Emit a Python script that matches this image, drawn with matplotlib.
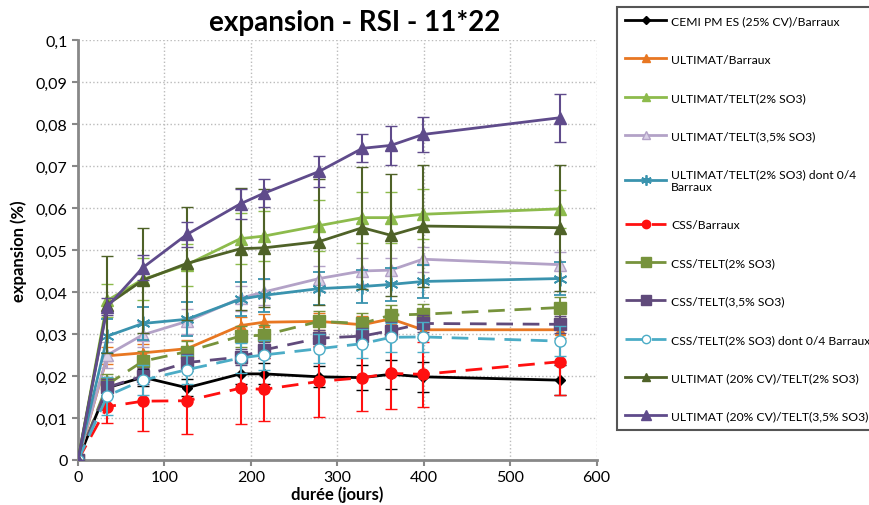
import matplotlib.pyplot as plt
from matplotlib.ticker import FuncFormatter

# durée (jours)
days = [0, 34, 75, 126, 188, 215, 279, 329, 362, 399, 558]

labels = [
    "CEMI PM ES (25% CV)/Barraux",
    "ULTIMAT/Barraux",
    "ULTIMAT/TELT(2% SO3)",
    "ULTIMAT/TELT(3,5% SO3)",
    "ULTIMAT/TELT(2% SO3) dont 0/4\nBarraux",
    "CSS/Barraux",
    "CSS/TELT(2% SO3)",
    "CSS/TELT(3,5% SO3)",
    "CSS/TELT(2% SO3) dont 0/4 Barraux",
    "ULTIMAT (20% CV)/TELT(2% SO3)",
    "ULTIMAT (20% CV)/TELT(3,5% SO3)",
]

cemi = [0, 0.0172, 0.0197, 0.0172, 0.0205, 0.0205, 0.0198, 0.0196, 0.0204, 0.0198, 0.0190]
ult_barraux = [0, 0.0248, 0.0255, 0.0265, 0.0320, 0.0328, 0.0330, 0.0322, 0.0336, 0.0310, 0.0310]
ult_telt2 = [0, 0.0380, 0.0430, 0.0465, 0.0527, 0.0533, 0.0558, 0.0577, 0.0577, 0.0585, 0.0598]
ult_telt35 = [0, 0.0250, 0.0298, 0.0330, 0.0385, 0.0400, 0.0432, 0.0450, 0.0452, 0.0478, 0.0465]
ult_telt2_04 = [0, 0.0295, 0.0325, 0.0335, 0.0383, 0.0392, 0.0408, 0.0413, 0.0418, 0.0425, 0.0432]
css_barraux = [0, 0.0127, 0.0140, 0.0141, 0.0171, 0.0168, 0.0187, 0.0196, 0.0206, 0.0204, 0.0234]
css_telt2 = [0, 0.0180, 0.0235, 0.0258, 0.0295, 0.0297, 0.0330, 0.0325, 0.0345, 0.0347, 0.0363]
css_telt35 = [0, 0.0173, 0.0200, 0.0232, 0.0245, 0.0262, 0.0290, 0.0295, 0.0308, 0.0325, 0.0323]
css_telt2_04 = [0, 0.0153, 0.0190, 0.0215, 0.0243, 0.0250, 0.0265, 0.0277, 0.0292, 0.0293, 0.0283]
ult20_telt2 = [0, 0.0370, 0.0428, 0.0468, 0.0503, 0.0505, 0.0520, 0.0553, 0.0535, 0.0557, 0.0553]
ult20_telt35 = [0, 0.0365, 0.0458, 0.0537, 0.0610, 0.0635, 0.0687, 0.0742, 0.0749, 0.0775, 0.0815]

# écarts (barres d'erreur)
err_cemi = [0, 0.0020, 0.0020, 0.0020, 0.0025, 0.0025, 0.0025, 0.0030, 0.0035, 0.0035, 0.0035]
err_ult_barraux = [0, 0.0020, 0.0020, 0.0020, 0.0020, 0.0020, 0.0020, 0.0020, 0.0020, 0.0020, 0.0020]
err_ult_telt2 = [0, 0.0040, 0.0050, 0.0050, 0.0060, 0.0060, 0.0060, 0.0060, 0.0060, 0.0060, 0.0045]
err_ult_telt35 = [0, 0.0030, 0.0030, 0.0030, 0.0030, 0.0030, 0.0030, 0.0030, 0.0030, 0.0030, 0.0030]
err_ult_telt2_04 = [0, 0.0040, 0.0040, 0.0040, 0.0040, 0.0040, 0.0040, 0.0040, 0.0040, 0.0040, 0.0040]
err_css_barraux = [0, 0.0040, 0.0070, 0.0080, 0.0085, 0.0075, 0.0085, 0.0080, 0.0085, 0.0078, 0.0080]
err_css_telt2 = [0, 0.0025, 0.0025, 0.0025, 0.0025, 0.0025, 0.0025, 0.0025, 0.0025, 0.0025, 0.0025]
err_css_telt35 = [0, 0.0020, 0.0020, 0.0020, 0.0020, 0.0020, 0.0020, 0.0020, 0.0020, 0.0020, 0.0020]
err_css_telt2_04 = [0, 0.0045, 0.0035, 0.0035, 0.0035, 0.0035, 0.0035, 0.0035, 0.0035, 0.0035, 0.0035]
err_ult20_telt2 = [0, 0.0115, 0.0125, 0.0135, 0.0145, 0.0140, 0.0150, 0.0145, 0.0145, 0.0145, 0.0150]
err_ult20_telt35 = [0, 0.0020, 0.0030, 0.0030, 0.0036, 0.0033, 0.0036, 0.0033, 0.0046, 0.0042, 0.0057]

series = [cemi, ult_barraux, ult_telt2, ult_telt35, ult_telt2_04, css_barraux,
          css_telt2, css_telt35, css_telt2_04, ult20_telt2, ult20_telt35]
errors = [err_cemi, err_ult_barraux, err_ult_telt2, err_ult_telt35, err_ult_telt2_04,
          err_css_barraux, err_css_telt2, err_css_telt35, err_css_telt2_04,
          err_ult20_telt2, err_ult20_telt35]

colors = ["#000000", "#E87722", "#8DBB4C", "#B3A2C7", "#3A93AE", "#FF1010",
          "#77933C", "#604A7B", "#4BACC6", "#4F6228", "#5F4B8B"]
markers = ["D", "^", "^", "^", (6, 2, 0), "o", "s", "s", "o", "^", "^"]
msizes = [5, 7, 8, 8, 10, 8, 9, 9, 8, 8, 9]
faces = [None, None, None, "#D9D0E6", None, None, None, None, "white", None, None]
dashed = [False, False, False, False, False, True, True, True, True, False, False]

plt.rcParams['font.family'] = ['Lato', 'DejaVu Sans']

fig = plt.figure(figsize=(8.7, 5.06), dpi=100)
ax = fig.add_axes([0.0897, 0.089, 0.596, 0.830])

handles = []
for i in range(len(series)):
    c = colors[i]
    fc = faces[i] if faces[i] else c
    eb = ax.errorbar(days, series[i], yerr=errors[i], color=c, ecolor=c,
                     elinewidth=1.5, capsize=4, capthick=1.5,
                     lw=2, marker=markers[i], ms=msizes[i],
                     mfc=fc, mec=c, mew=1.3 if markers[i] == (6, 2, 0) else 1,
                     ls=(0, (6, 3.5)) if dashed[i] else "-", zorder=2 + i)
    handles.append(eb[0])

ax.set_xlim(0, 600)
ax.set_ylim(0, 0.1)
ax.set_xticks(range(0, 601, 100))
ax.set_yticks([i / 100 for i in range(11)])
ax.yaxis.set_major_formatter(FuncFormatter(lambda v, p: "0" if v == 0 else f"{v:.2f}".rstrip("0").replace(".", ",")))
ax.tick_params(labelsize=11.5, colors="#888888", labelcolor="black", width=1.5, length=4)
ax.grid(True, ls=":", color="#BBBBBB", lw=1)
ax.set_axisbelow(True)
for s in ["top", "right"]:
    ax.spines[s].set_visible(False)
for s in ["left", "bottom"]:
    ax.spines[s].set_color("#888888")
    ax.spines[s].set_linewidth(2)

ax.set_xlabel("durée (jours)", fontsize=12, fontweight="bold", labelpad=1)
ax.set_ylabel("expansion (%)", fontsize=12, fontweight="bold", labelpad=6)
fig.text(0.408, 0.955, "expansion - RSI - 11*22", ha="center", va="center",
         fontsize=20, fontweight="bold")

leg = fig.legend(handles, labels, loc="upper left", bbox_to_anchor=(0.702, 0.996),
                 fontsize=8.7, labelspacing=2.25, handlelength=3.4, handletextpad=0.4,
                 borderpad=0.7, markerscale=0.75,
                 fancybox=False, edgecolor="#555555", framealpha=1)
leg.get_frame().set_linewidth(1.5)

fig.savefig("out.png", dpi=100)
